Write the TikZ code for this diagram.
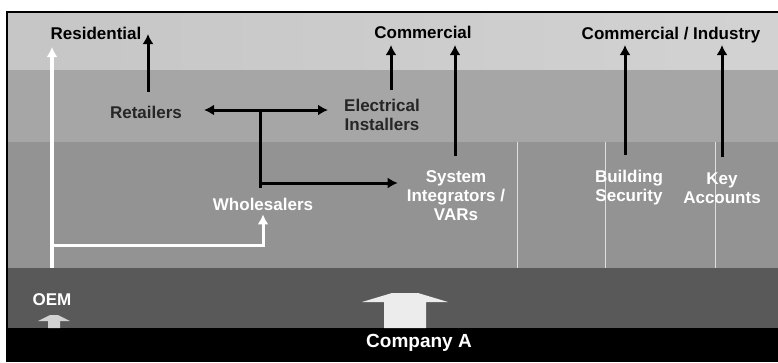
\documentclass[tikz,border=0pt]{standalone}
\usepackage{fontspec}
\setmainfont{Liberation Sans}
\usetikzlibrary{arrows.meta}
\tikzset{lbl/.style={font=\bfseries\fontsize{17}{19}\selectfont,inner sep=1pt,align=center},wlbl/.style={lbl,text=white},line/.style={-{Latex[length=10pt,width=11pt]},line width=3pt},dline/.style={{Latex[length=10pt,width=11pt]}-{Latex[length=10pt,width=11pt]},line width=3pt},wline/.style={line,white}}

\begin{document}
\begin{tikzpicture}[x=1pt,y=-1pt]
\useasboundingbox (0,0) rectangle (778,362);
% bands
\shade[left color=gray!45,middle color=gray!8,right color=gray!35] (7,12) rectangle (778,70);
\fill[gray!70] (7,70) rectangle (778,142);
\fill[gray!85] (7,142) rectangle (778,268);
\fill[black!65] (7,268) rectangle (778,328);
\fill[black] (7,328) rectangle (778,362);
\draw[line width=1.2pt] (7,362) -- (7,12) -- (778,12);
\foreach \x in {517,605,715} \draw[white!75!gray,line width=0.8pt] (\x,142) -- (\x,268);
% block arrows from the base
\fill[gray!15] (384,328) -- (384,302) -- (362,302) -- (392,293) -- (418,293) -- (448,302) -- (426,302) -- (426,328) -- cycle;
\fill[gray!35] (48,328) -- (48,321) -- (38,321) -- (50,315) -- (58,315) -- (70,321) -- (60,321) -- (60,328) -- cycle;
% labels
\node[lbl,anchor=base] (res) at (96,39) {Residential};
\node[lbl,anchor=base] (com) at (423,38) {Commercial};
\node[lbl,anchor=base] (ind) at (671,39) {Commercial / Industry};
\node[lbl,anchor=base,text=black!85] (ret) at (146,118) {Retailers};
\node[lbl,text=black!85] (ele) at (382,115) {Electrical\\Installers};
\node[wlbl,anchor=base] (whs) at (263,210) {Wholesalers};
\node[wlbl] (sys) at (456,196) {System\\Integrators /\\VARs};
\node[wlbl] (bld) at (629,188) {Building\\Security};
\node[wlbl] (key) at (722,188) {Key\\Accounts};
\node[wlbl,anchor=base] (oem) at (52,305) {OEM};
\node[wlbl,anchor=base,font=\bfseries\fontsize{19}{21}\selectfont] (cpa) at (419,347) {Company A};
% arrow ends
\coordinate (retTip) at (148,34);
\coordinate (eleTip) at (391,45);
\coordinate (sysTip) at (455,45);
\coordinate (bldTip) at (625,45);
\coordinate (keyTip) at (722,45);
\coordinate (tee) at (260,110);
\coordinate (knee) at (260,183);
\coordinate (oemTip) at (52,47);
\coordinate (oemKnee) at (52,245);
% connectors
\draw[line,shorten <=12pt] (ret.north -| retTip) -- (retTip);
\draw[line,shorten <=8pt] (ele.north -| eleTip) -- (eleTip);
\draw[line,shorten <=14pt] (sys.north -| sysTip) -- (sysTip);
\draw[line,shorten <=14pt] (bld.north -| bldTip) -- (bldTip);
\draw[line,shorten <=14pt] (key.north -| keyTip) -- (keyTip);
\draw[dline,shorten <=21pt,shorten >=15pt] (tee -| ret.east) -- (tee -| ele.west);
\draw[line width=3pt,shorten >=8pt] (tee) -- (tee |- whs.north);
\draw[line,shorten >=8pt] (knee) -- (knee -| sys.west);
\draw[wline,line width=3.5pt,shorten <=24pt] (oem.north) -- (oemTip);
\draw[wline,shorten >=3pt] (oemKnee) -| (whs.south);
\end{tikzpicture}
\end{document}
